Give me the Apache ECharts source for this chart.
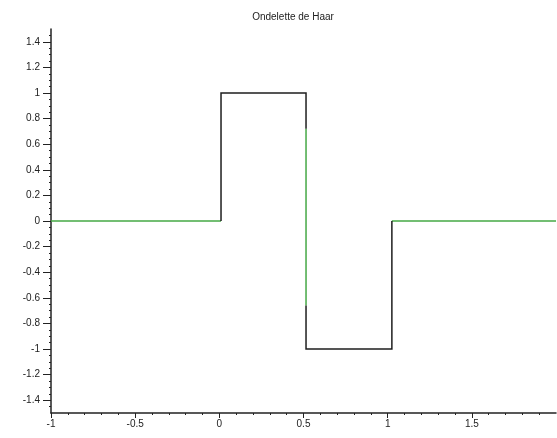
<!DOCTYPE html>
<html><head><meta charset="utf-8">
<script src="https://cdn.jsdelivr.net/npm/echarts@6/dist/echarts.min.js"></script>
<style>html,body{margin:0;padding:0;background:#fff}#c{width:557px;height:438px}</style>
</head><body><div id="c"></div>
<script>
const title = "Ondelette de Haar";
const xRange = [-1, 2];
const yRange = [-1.5, 1.5];
const xTicks = [-1, -0.5, 0, 0.5, 1, 1.5];
const yTicks = [-1.4, -1.2, -1, -0.8, -0.6, -0.4, -0.2, 0, 0.2, 0.4, 0.6, 0.8, 1, 1.2, 1.4];
const yMinorTicks = [-1.45, -1.35, -1.3, -1.25, -1.15, -1.1, -1.05, -0.95, -0.9, -0.85, -0.75, -0.7, -0.65,
  -0.55, -0.5, -0.45, -0.35, -0.3, -0.25, -0.15, -0.1, -0.05, 0.05, 0.1, 0.15, 0.25, 0.3, 0.35,
  0.45, 0.5, 0.55, 0.65, 0.7, 0.75, 0.85, 0.9, 0.95, 1.05, 1.1, 1.15, 1.25, 1.3, 1.35, 1.45];
// green trace segments
const greenLeft = [[-1, 0], [0.01, 0]];
const greenMid = [[0.515, 0.72], [0.515, -0.66]];
const greenRight = [[1.025, 0], [2, 0]];
// black trace segments
const blackUp = [[0.01, 0], [0.01, 1], [0.515, 1], [0.515, 0.72]];
const blackDown = [[0.515, -0.66], [0.515, -1], [1.025, -1], [1.025, 0]];

const font = 'Liberation Sans';
const greenColor = '#45a845';
const blackColor = '#1e1e1e';
const fmt = v => String(Math.round(v * 10) / 10);
function seg(data, color) {
  return { type: 'line', data: data, symbol: 'none', animation: false,
    lineStyle: { color: color, width: 1.5, join: 'miter' } };
}
const chart = echarts.init(document.getElementById('c'), null, { renderer: 'canvas' });
chart.setOption({
  backgroundColor: '#fff',
  animation: false,
  title: { text: title, left: 288, top: 7, textAlign: 'center',
    textStyle: { fontFamily: font, fontSize: 10, fontWeight: 'normal', color: '#222' } },
  grid: { left: 51, right: 1, top: 29, bottom: 25, containLabel: false },
  xAxis: { type: 'value', min: xRange[0], max: xRange[1], interval: 0.5,
    axisLine: { onZero: false, lineStyle: { color: '#222', width: 1.5 } },
    axisTick: { show: true, length: 5, customValues: xTicks, lineStyle: { color: '#222' } },
    minorTick: { show: true, splitNumber: 5, length: 2, lineStyle: { color: '#222' } },
    splitLine: { show: false },
    axisLabel: { fontFamily: font, fontSize: 10, color: '#222', margin: 6,
      customValues: xTicks, formatter: fmt } },
  yAxis: [
    { type: 'value', min: yRange[0], max: yRange[1],
      axisLine: { onZero: false, lineStyle: { color: '#222', width: 1.5 } },
      axisTick: { show: true, length: 8, customValues: yTicks, lineStyle: { color: '#222' } },
      splitLine: { show: false },
      axisLabel: { fontFamily: font, fontSize: 10, color: '#222', margin: 11,
        customValues: yTicks, formatter: fmt } },
    { type: 'value', min: yRange[0], max: yRange[1], position: 'left',
      axisLine: { show: false, onZero: false },
      axisTick: { show: true, length: 2, customValues: yMinorTicks, lineStyle: { color: '#222' } },
      splitLine: { show: false },
      axisLabel: { show: false } }
  ],
  series: [
    seg(greenLeft, greenColor), seg(greenMid, greenColor), seg(greenRight, greenColor),
    seg(blackUp, blackColor), seg(blackDown, blackColor)
  ]
});
</script></body></html>
